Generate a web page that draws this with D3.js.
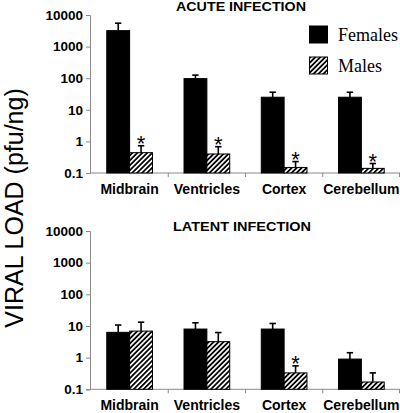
<!DOCTYPE html>
<html>
<head>
<meta charset="utf-8">
<script src="https://cdn.jsdelivr.net/npm/d3@7"></script>
<style>
  html, body { margin: 0; padding: 0; background: #fff; }
  svg { display: block; }
</style>
</head>
<body>
<script>
// ---- Data ----
const categories = ["Midbrain", "Ventricles", "Cortex", "Cerebellum"];
const seriesNames = ["Females", "Males"];
const tickValues = [0.1, 1, 10, 100, 1000, 10000];
const tickLabels = ["0.1", "1", "10", "100", "1000", "10000"];

const acuteFemales   = [3200, 97, 25, 25];
const acuteFemalesSE = [2300, 28, 11, 11];
const acuteMales     = [0.44, 0.40, 0.15, 0.14];
const acuteMalesSE   = [0.29, 0.28, 0.08, 0.06];
const acuteMalesSig  = [true, true, true, true];

const latentFemales   = [6.3, 8.0, 8.0, 0.9];
const latentFemalesSE = [4.4, 4.6, 4.0, 0.53];
const latentMales     = [6.9, 3.2, 0.33, 0.17];
const latentMalesSE   = [6.3, 3.0, 0.22, 0.16];
const latentMalesSig  = [false, false, true, false];

const panelTitles = ["ACUTE INFECTION", "LATENT INFECTION"];
const yAxisTitle = "VIRAL LOAD (pfu/ng)";

// ---- Layout ----
const W = 400, H = 413;
const svg = d3.select("body").append("svg").attr("width", W).attr("height", H);

const defs = svg.append("defs");
const pat = defs.append("pattern")
  .attr("id", "hatch").attr("patternUnits", "userSpaceOnUse")
  .attr("width", 3.5).attr("height", 3.5)
  .attr("patternTransform", "rotate(45)");
pat.append("rect").attr("width", 3.5).attr("height", 3.5).attr("fill", "#fff");
pat.append("line").attr("x1", 0.9).attr("y1", 0).attr("x2", 0.9).attr("y2", 3.5)
  .attr("stroke", "#000").attr("stroke-width", 1.8);

const axisX = 90;
const x0 = d3.scaleBand().domain(categories).range([91, 400]).paddingInner(0).paddingOuter(0);
const x1 = d3.scaleBand().domain(seriesNames).range([0, x0.bandwidth()]).paddingInner(0).paddingOuter(0.69);

const panels = [
  { title: panelTitles[0], top: 15, bottom: 173, titleY: 11, titleX: 241, titleW: 130,
    f: acuteFemales, fse: acuteFemalesSE, m: acuteMales, mse: acuteMalesSE, sig: acuteMalesSig },
  { title: panelTitles[1], top: 231, bottom: 389.3, titleY: 231, titleX: 242, titleW: 138,
    f: latentFemales, fse: latentFemalesSE, m: latentMales, mse: latentMalesSE, sig: latentMalesSig }
];

const axisColor = "#8a8a8a";

panels.forEach(p => {
  const y = d3.scaleLog().domain([0.1, 10000]).range([p.bottom, p.top]);
  const g = svg.append("g");

  // y axis
  const yAxis = d3.axisLeft(y).tickValues(tickValues)
    .tickFormat((d, i) => tickLabels[i]).tickSize(4).tickPadding(3);
  const ya = g.append("g").attr("transform", `translate(${axisX},0)`).call(yAxis);
  ya.select(".domain").attr("stroke", axisColor);
  ya.selectAll(".tick line").attr("stroke", axisColor);
  ya.selectAll(".tick text")
    .attr("font-family", "Liberation Sans, Arial, sans-serif")
    .attr("font-weight", "bold").attr("font-size", 13.5).attr("fill", "#000");

  // x axis line + boundary ticks
  g.append("line").attr("x1", axisX).attr("x2", 400)
    .attr("y1", p.bottom).attr("y2", p.bottom).attr("stroke", axisColor);
  categories.forEach(c => {
    const bx = x0(c) + x0.bandwidth();
    g.append("line").attr("x1", Math.min(bx, 399.5)).attr("x2", Math.min(bx, 399.5))
      .attr("y1", p.bottom).attr("y2", p.bottom + 4).attr("stroke", axisColor);
  });
  // category labels
  const xAxis = d3.axisBottom(x0).tickSize(0).tickPadding(0);
  const xa = g.append("g").attr("transform", `translate(0,${p.bottom})`).call(xAxis);
  xa.select(".domain").remove();
  xa.selectAll(".tick text")
    .attr("font-family", "Liberation Sans, Arial, sans-serif")
    .attr("font-weight", "bold").attr("font-size", 14).attr("fill", "#000")
    .attr("dy", null).attr("y", 20.5);

  // bars
  const rows = categories.map((c, i) => ({
    c,
    vals: [
      { s: "Females", v: p.f[i], se: p.fse[i], sig: false },
      { s: "Males", v: p.m[i], se: p.mse[i], sig: p.sig[i] }
    ]
  }));
  const grp = g.selectAll(".grp").data(rows).enter().append("g")
    .attr("transform", d => `translate(${x0(d.c)},0)`);
  const items = grp.selectAll(".item").data(d => d.vals).enter().append("g");

  // error bars (upper only)
  items.append("line")
    .attr("x1", d => x1(d.s) + x1.bandwidth() / 2)
    .attr("x2", d => x1(d.s) + x1.bandwidth() / 2)
    .attr("y1", d => y(d.v)).attr("y2", d => y(d.v + d.se))
    .attr("stroke", "#000").attr("stroke-width", 1.6);
  items.append("line")
    .attr("x1", d => x1(d.s) + x1.bandwidth() / 2 - 3.2)
    .attr("x2", d => x1(d.s) + x1.bandwidth() / 2 + 3.2)
    .attr("y1", d => y(d.v + d.se)).attr("y2", d => y(d.v + d.se))
    .attr("stroke", "#000").attr("stroke-width", 1.6);

  items.append("rect")
    .attr("x", d => x1(d.s))
    .attr("width", x1.bandwidth())
    .attr("y", d => y(d.v))
    .attr("height", d => y(0.1) - y(d.v))
    .attr("fill", d => d.s === "Females" ? "#000" : "url(#hatch)")
    .attr("stroke", "#000").attr("stroke-width", 1);

  // significance asterisks
  items.filter(d => d.sig).append("text")
    .attr("x", d => x1(d.s) + x1.bandwidth() / 2)
    .attr("y", d => y(d.v + d.se) + 5.5)
    .attr("text-anchor", "middle")
    .attr("font-family", "Liberation Sans, Arial, sans-serif")
    .attr("font-size", 22).attr("fill", "#000")
    .text("*");

  // panel title
  g.append("text").attr("x", p.titleX).attr("y", p.titleY)
    .attr("text-anchor", "middle")
    .attr("font-family", "Liberation Sans, Arial, sans-serif")
    .attr("font-weight", "bold").attr("font-size", 13).attr("fill", "#000")
    .attr("textLength", p.titleW).attr("lengthAdjust", "spacingAndGlyphs")
    .text(p.title);
});

// legend
const legend = svg.append("g");
const legendItems = [
  { name: seriesNames[0], fill: "#000", y: 26 },
  { name: seriesNames[1], fill: "url(#hatch)", y: 57 }
];
legendItems.forEach(d => {
  legend.append("rect").attr("x", 309.5).attr("y", d.y).attr("width", 18).attr("height", 17)
    .attr("fill", d.fill).attr("stroke", "#000").attr("stroke-width", 1);
  legend.append("text").attr("x", 338).attr("y", d.y + 15)
    .attr("font-family", "Liberation Serif, Times New Roman, serif")
    .attr("font-size", 18).attr("fill", "#000").text(d.name);
});

// y axis title
svg.append("text")
  .attr("transform", "translate(23,208) rotate(-90)")
  .attr("text-anchor", "middle")
  .attr("font-family", "Liberation Sans, Arial, sans-serif")
  .attr("font-size", 25).attr("fill", "#000")
  .text(yAxisTitle);
</script>
</body>
</html>
